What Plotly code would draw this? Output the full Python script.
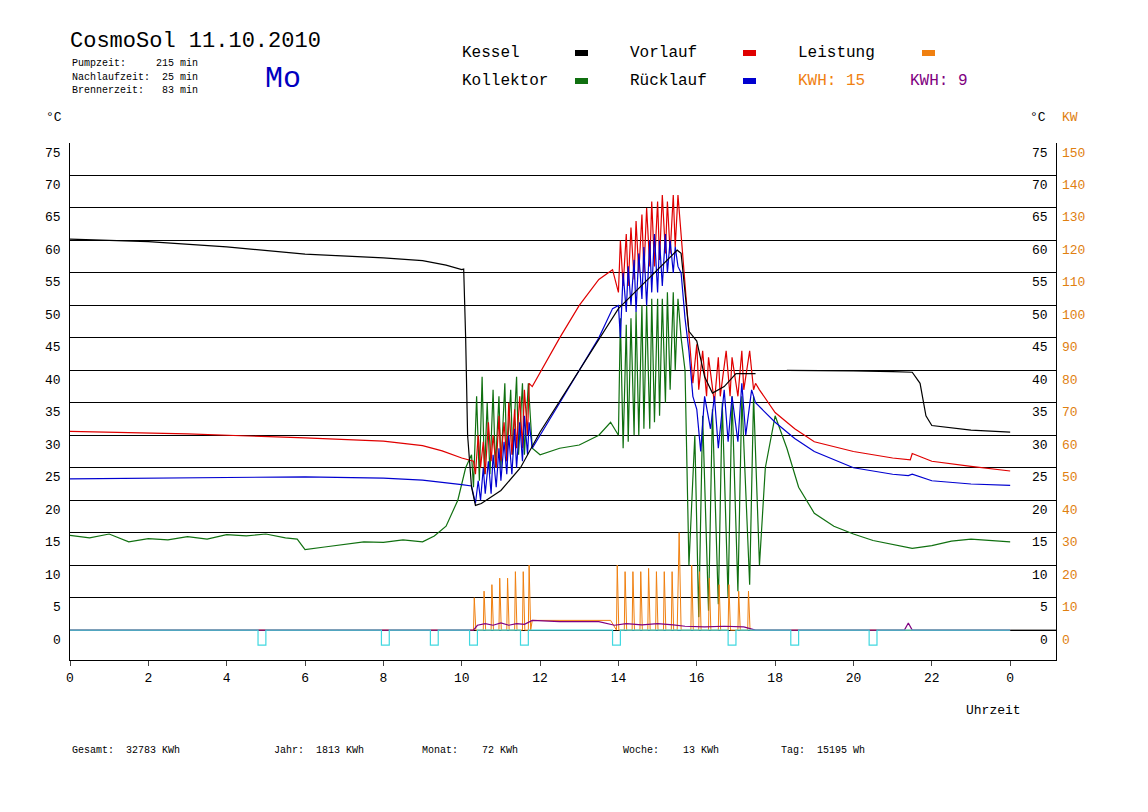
import plotly.graph_objects as go

# Zeitreihen (Stunden, °C)
kessel_t = [0, 2, 4, 5, 6, 8, 9, 9.6, 10.0, 10.05, 10.1, 10.15, 10.25, 10.35, 10.5, 11.0, 11.5, 12, 13, 14, 14.5, 15, 15.5, 15.6, 15.7,
            15.8, 16.0, 16.2, 16.4, 16.7, 17.0, 17.5, 17.55, 18.3, 19, 20, 21, 21.5, 21.7, 21.85, 22.0, 23, 24]
kessel_v = [60.2, 59.8, 59.0, 58.4, 57.9, 57.3, 56.9, 56.2, 55.5, 55.6, 45, 30, 22, 19.2, 19.5, 21.5, 25, 30.5, 40, 49.5, 52.5, 55.5, 58.5, 58.0, 52,
            46, 44.5, 39, 36.5, 37.5, 39.5, 39.5, None, 40, 40, 39.9, 39.8, 39.7, 38, 33, 31.5, 30.8, 30.5]

vorlauf_t = [0, 3, 6, 8, 9, 9.5, 10, 10.3, 10.35, 10.42, 10.48, 10.55, 10.6, 10.68, 10.75, 10.8, 10.88, 10.95, 11.0, 11.08, 11.15, 11.2,
             11.28, 11.35, 11.4, 11.48, 11.55, 11.6, 11.68, 11.72, 11.8, 12.5, 13.0, 13.5, 13.85, 14.0, 14.05, 14.12, 14.2, 14.25,
             14.32, 14.4, 14.45, 14.52, 14.6, 14.65, 14.72, 14.8, 14.85, 14.92, 15.0, 15.05, 15.12, 15.2, 15.25, 15.32, 15.4, 15.45,
             15.52, 15.6, 15.75, 15.82, 15.9, 16.0, 16.05, 16.15, 16.25, 16.3, 16.45, 16.55, 16.6, 16.75, 16.85, 16.9, 17.05, 17.15,
             17.2, 17.35, 17.45, 17.5, 17.6, 18, 18.5, 19, 20, 21, 21.45, 21.5, 22, 23, 24]
vorlauf_v = [30.6, 30.2, 29.6, 29.1, 28.4, 27.6, 26.5, 26.0, 24, 30, 25, 29, 24, 32, 26, 30, 25, 33, 26, 32, 26, 35,
             27, 34, 28, 36, 28, 37, 30, 38, 37.5, 45, 50, 54, 55.5, 52, 60, 53, 61, 53, 62, 54, 63, 55, 64, 55, 65, 56, 66, 56,
             66, 57, 67, 58, 66, 58, 67, 59, 67, 61, 50, 45, 38, 44, 37, 43, 36, 42, 35, 42, 36, 43, 36, 42, 36, 43, 37, 43, 37,
             38, 37, 33.5, 31, 29, 27.5, 26.5, 26.2, 27.2, 26.0, 25.2, 24.5]

ruecklauf_t = [0, 3, 6, 8, 9, 10, 10.25, 10.35, 10.42, 10.48, 10.55, 10.6, 10.68, 10.75, 10.8, 10.88, 10.95, 11.0, 11.08, 11.15,
               11.2, 11.28, 11.35, 11.4, 11.48, 11.55, 11.6, 11.68, 11.72, 11.8, 12.5, 13.0, 13.5, 13.85, 14.0, 14.05, 14.12, 14.2,
               14.25, 14.32, 14.4, 14.45, 14.52, 14.6, 14.65, 14.72, 14.8, 14.85, 14.92, 15.0, 15.05, 15.12, 15.2, 15.25, 15.32,
               15.4, 15.45, 15.52, 15.6, 15.7, 15.8, 15.9, 16.0, 16.1, 16.2, 16.35, 16.45, 16.55, 16.7, 16.8, 16.9, 17.05, 17.15,
               17.25, 17.4, 17.5, 18, 18.5, 19, 20, 21, 21.4, 21.5, 22, 23, 24]
ruecklauf_v = [23.3, 23.4, 23.6, 23.4, 23.1, 22.4, 22.2, 19.5, 23, 20, 25, 21, 26, 21, 27, 22, 28, 23, 29, 24,
               30, 24, 31, 25, 32, 26, 33, 27, 32, 28, 35, 40, 45, 49.5, 50, 45, 55, 49, 56, 50, 57, 49, 58, 51, 59, 50, 60, 52,
               61, 52, 60, 53, 61, 55, 60, 55, 59, 56, 55, 48, 43, 36, 34, 27.5, 36, 31, 36, 28, 37, 29, 36, 29, 38, 30, 37, 35,
               32, 29.5, 27.5, 25, 24, 23.8, 24.0, 23, 22.5, 22.3]

kollektor_t = [0, 0.5, 1, 1.5, 2, 2.5, 3, 3.5, 4, 4.5, 5, 5.5, 5.8, 6, 6.5, 7, 7.5, 8, 8.5, 9, 9.3, 9.6, 9.9, 10.1, 10.25,
               10.3, 10.38, 10.45, 10.52, 10.58, 10.65, 10.72, 10.8, 10.86, 10.95, 11.0, 11.1, 11.15, 11.25, 11.3, 11.4, 11.45,
               11.55, 11.6, 11.7, 11.8, 12, 12.5, 13, 13.5, 13.8, 14.0, 14.05, 14.12, 14.2, 14.25, 14.32, 14.4, 14.45, 14.52,
               14.6, 14.65, 14.72, 14.8, 14.85, 14.92, 15.0, 15.05, 15.12, 15.2, 15.25, 15.32, 15.4, 15.45, 15.52, 15.6, 15.7,
               15.8, 15.95, 16.05, 16.15, 16.3, 16.4, 16.55, 16.65, 16.8, 16.9, 17.05, 17.15, 17.35, 17.45, 17.6, 17.75, 18.0,
               18.3, 18.6, 19.0, 19.5, 20, 20.5, 21, 21.5, 22, 22.5, 23, 23.5, 24]
kollektor_v = [14.6, 14.2, 14.8, 13.6, 14.1, 13.9, 14.4, 14.0, 14.7, 14.5, 14.8, 14.2, 14.0, 12.4, 12.8, 13.2, 13.6, 13.5,
               13.9, 13.6, 14.5, 16, 20, 25, 27, 22, 36, 23, 39, 24, 35, 24, 37, 25, 36, 25, 38, 26, 37, 27, 39, 27, 38, 27,
               38, 28, 27, 28, 28.5, 30, 32, 30, 48, 28, 47, 29, 48, 30, 49, 30, 50, 31, 50, 31, 51, 32, 51, 33, 51, 35, 52,
               37, 52, 40, 51, 45, 40, 10, 30, 2, 33, 3, 34, 4, 35, 5, 36, 6, 36, 7, 36, 10, 25, 33, 28, 22, 18, 16, 14.8,
               13.8, 13.2, 12.6, 13.0, 13.7, 14.0, 13.8, 13.6]

# Leistung (kW, rechte Achse) und KWH-Linie
leistung_t = [0, 10.3, 10.32, 10.36, 10.55, 10.57, 10.61, 10.75, 10.77, 10.81, 10.95, 10.97, 11.01, 11.15, 11.17, 11.21,
              11.35, 11.37, 11.41, 11.55, 11.57, 11.61, 11.7, 11.72, 11.76, 11.8, 13.8, 13.95, 13.97, 14.01, 14.15, 14.17, 14.21,
              14.35, 14.37, 14.41, 14.55, 14.57, 14.61, 14.75, 14.77, 14.81, 14.95, 14.97, 15.01, 15.15, 15.17, 15.21, 15.35,
              15.37, 15.41, 15.5, 15.55, 15.6, 15.85, 15.87, 15.91, 16.05, 16.07, 16.11, 16.3, 16.32, 16.36, 16.55, 16.57, 16.61,
              16.8, 16.82, 16.86, 17.05, 17.07, 17.11, 17.3, 17.32, 17.36, 17.5, 24]
leistung_v = [0, 0, 10, 0, 0, 12, 0, 0, 14, 0, 0, 16, 0, 0, 16, 0, 0, 18, 0, 0, 18, 0, 0, 20, 0, 3, 3, 0, 20, 0, 0, 18, 0,
              0, 18, 0, 0, 18, 0, 0, 19, 0, 0, 18, 0, 0, 18, 0, 0, 18, 0, 0, 30, 0, 0, 20, 0, 0, 18, 0, 0, 16, 0, 0, 14, 0,
              0, 14, 0, 0, 12, 0, 0, 12, 0, 0, 0]
kwh_t = [0, 10.3, 10.4, 10.6, 10.8, 11.0, 11.2, 11.4, 11.6, 11.8, 12.5, 13.5, 13.9, 14.2, 14.6, 15.0, 15.4, 15.7, 16.2, 16.7,
         17.2, 17.5, 21.3, 21.4, 21.5, 24]
kwh_v = [0, 0, 1.5, 2.0, 1.5, 2.2, 1.5, 2.0, 1.8, 3.0, 2.6, 2.6, 1.5, 2.0, 1.6, 2.0, 1.6, 1.2, 1.0, 1.2, 1.0, 0, 0, 2.2, 0, 0]

# Pumpenmarken (Stunde)
pumpe_marken = [4.9, 8.05, 9.3, 10.3, 11.6, 13.95, 16.9, 18.5, 20.5]

y_ticks = list(range(0, 80, 5))
x_ticks = [0, 2, 4, 6, 8, 10, 12, 14, 16, 18, 20, 22, 24]
x_labels = ['0', '2', '4', '6', '8', '10', '12', '14', '16', '18', '20', '22', '0']

FONT = 'Liberation Mono'
fig = go.Figure()

def linie(t, v, farbe, breite=1, y2=False):
    fig.add_trace(go.Scatter(x=t, y=v, mode='lines', line=dict(color=farbe, width=breite),
                             yaxis='y2' if y2 else 'y', showlegend=False, hoverinfo='skip', cliponaxis=False))

linie([24, 25.17], [0, 0], 'black')
linie(kollektor_t, kollektor_v, '#107010', 1.2)
linie(vorlauf_t, vorlauf_v, '#e00000', 1.2)
linie(ruecklauf_t, ruecklauf_v, '#0000d0', 1.2)
linie(kessel_t, kessel_v, 'black', 1.2)

linie(leistung_t, leistung_v, '#f08010', 1, y2=True)
linie(kwh_t, kwh_v, '#800080', 1.2, y2=True)

# Pumpen-Linie mit Rechteckmarken (auf der kW-Achse, damit sie oben liegt)
cy_t, cy_v = [0], [0]
for m in pumpe_marken:
    cy_t += [m - 0.1, m - 0.1, m + 0.1, m + 0.1]
    cy_v += [0, -4.6, -4.6, 0]
cy_t.append(24)
cy_v.append(0)
linie(cy_t, cy_v, '#40d8e0', 1.2, y2=True)

# Seite hat 8px Rand, daher Plotbereich bei 70..1056 / 143..660
fig.update_layout(
    width=1148, height=812, plot_bgcolor='white', paper_bgcolor='white',
    margin=dict(l=62, r=100, t=135, b=160),
    font=dict(family=FONT, size=13, color='black'),
    xaxis=dict(range=[0, 25.17], tickvals=x_ticks, ticktext=x_labels, ticks='outside', ticklen=5,
               showgrid=False, showline=True, linecolor='black', mirror=False, zeroline=False),
    yaxis=dict(range=[-4.6, 75], tickvals=y_ticks, showticklabels=False, showgrid=True, gridcolor='black',
               gridwidth=1, showline=True, linecolor='black', zeroline=False),
    yaxis2=dict(range=[-9.2, 150], overlaying='y', side='right', showticklabels=False, showgrid=False,
                showline=True, linecolor='black', zeroline=False),
)

ann = []
def text(px, py, s, farbe='black', size=13, anchor='left'):
    ann.append(dict(x=(px - 70) / 986, y=(660 - py) / 517, xref='paper', yref='paper', text=s, showarrow=False,
                    xanchor=anchor, yanchor='middle', font=dict(family=FONT, size=size, color=farbe)))

for v in y_ticks:
    py = 630 - v * 6.493 + 10
    text(63, py, str(v), anchor='right')
    text(1050, py, str(v), anchor='right')
    text(1060, py, str(2 * v), farbe='#e08010')

text(68, 42, 'CosmoSol 11.10.2010', size=22)
text(70, 63, 'Pumpzeit:     215 min', size=10)
text(70, 77, 'Nachlaufzeit:  25 min', size=10)
text(70, 91, 'Brennerzeit:   83 min', size=10)
text(263, 79, 'Mo', farbe='#0000c0', size=30)
text(460, 53, 'Kessel', size=16)
text(460, 81, 'Kollektor', size=16)
text(628, 53, 'Vorlauf', size=16)
text(628, 81, 'Rücklauf', size=16)
text(796, 53, 'Leistung', size=16)
text(796, 81, 'KWH: 15', farbe='#f08010', size=16)
text(908, 81, 'KWH: 9', farbe='#800080', size=16)
text(44, 118, '°C')
text(1028, 118, '°C')
text(1060, 118, 'KW', farbe='#e08010')
text(964, 710, 'Uhrzeit')
for px, s in [(70, 'Gesamt:  32783 KWh'), (272, 'Jahr:  1813 KWh'), (420, 'Monat:    72 KWh'),
              (621, 'Woche:    13 KWh'), (779, 'Tag:  15195 Wh')]:
    text(px, 750, s, size=10)

shapes = []
for px, py, farbe in [(575, 53, 'black'), (575, 81, '#107010'), (743, 53, '#e00000'), (743, 81, '#0000d0'),
                      (922, 53, '#f08010')]:
    shapes.append(dict(type='line', xref='paper', yref='paper', x0=(px - 70) / 986, x1=(px + 13 - 70) / 986,
                       y0=(660 - py) / 517, y1=(660 - py) / 517, line=dict(color=farbe, width=6)))

fig.update_layout(annotations=ann, shapes=shapes)
fig.write_html('out.html')
